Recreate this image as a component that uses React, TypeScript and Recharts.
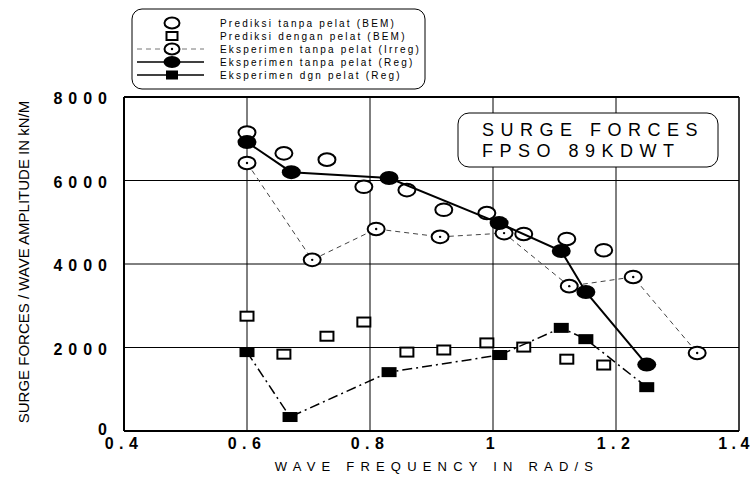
import React from "react";
import {
  ComposedChart,
  Scatter,
  XAxis,
  YAxis,
  CartesianGrid,
  ReferenceLine,
} from "recharts";

// ---- data ----
const xTicks = [0.4, 0.6, 0.8, 1.0, 1.2, 1.4];
const xTickLabels = ["0.4", "0.6", "0.8", "1", "1.2", "1.4"];
const yTicks = [0, 2000, 4000, 6000, 8000];
const yTickLabels = ["0", "2000", "4000", "6000", "8000"];

const bemFreq = [0.6, 0.66, 0.73, 0.79, 0.86, 0.92, 0.99, 1.05, 1.12, 1.18];
const bemTanpa = [7150, 6650, 6500, 5850, 5770, 5300, 5220, 4720, 4600, 4330];
const bemDengan = [2750, 1840, 2270, 2610, 1890, 1940, 2110, 2010, 1720, 1580];

const irregFreq = [0.6, 0.706, 0.81, 0.914, 1.018, 1.124, 1.228, 1.332];
const irregTanpa = [6420, 4100, 4840, 4650, 4740, 3470, 3690, 1870];

const regTanpaFreq = [0.6, 0.672, 0.831, 1.01, 1.111, 1.151, 1.25];
const regTanpa = [6920, 6200, 6060, 4980, 4310, 3330, 1590];

const regDgnFreq = [0.6, 0.67, 0.831, 1.011, 1.111, 1.151, 1.25];
const regDgn = [1890, 335, 1410, 1820, 2470, 2200, 1050];

const legendLabels = [
  "Prediksi tanpa pelat (BEM)",
  "Prediksi dengan pelat (BEM)",
  "Eksperimen tanpa pelat (Irreg)",
  "Eksperimen tanpa pelat (Reg)",
  "Eksperimen dgn pelat (Reg)",
];
const titleLines = ["SURGE FORCES", "FPSO 89KDWT"];
const xLabel = "WAVE FREQUENCY IN RAD/S";
const yLabel = "SURGE FORCES / WAVE AMPLITUDE IN kN/M";

const pts = (xs: number[], ys: number[]) => xs.map((x, i) => ({ x, y: ys[i] }));

const FONT = "'Liberation Sans', Arial, sans-serif";
const W = 755;
const H = 477;

// ---- marker shapes ----
const OpenCircle = (p: any) => (
  <ellipse cx={p.cx} cy={p.cy} rx={8.5} ry={6.3} fill="#fff" stroke="#000" strokeWidth={2} />
);
const OpenSquare = (p: any) => (
  <rect x={p.cx - 6.5} y={p.cy - 4.5} width={13} height={9} fill="#fff" stroke="#000" strokeWidth={2} />
);
const DotCircle = (p: any) => (
  <g>
    <ellipse cx={p.cx} cy={p.cy} rx={8.5} ry={6.3} fill="#fff" stroke="#000" strokeWidth={2} />
    <circle cx={p.cx} cy={p.cy} r={1.2} fill="#000" />
  </g>
);
const FilledCircle = (p: any) => (
  <ellipse cx={p.cx} cy={p.cy} rx={9.5} ry={7} fill="#000" />
);
const FilledSquare = (p: any) => (
  <rect x={p.cx - 7.5} y={p.cy - 5} width={15} height={10} fill="#000" />
);

// ---- ticks ----
const XTick = (props: any) => {
  const { x, y, payload } = props;
  const idx = xTicks.indexOf(payload.value);
  const last = idx === xTicks.length - 1;
  return (
    <text
      x={last ? x - 3 : x}
      y={y + 18}
      textAnchor="middle"
      fontFamily={FONT}
      fontSize={16}
      fontWeight="bold"
      letterSpacing={last ? 4.5 : 5.5}
      fill="#000"
    >
      {idx >= 0 ? xTickLabels[idx] : payload.value}
    </text>
  );
};

const YTick = (props: any) => {
  const { x, y, payload } = props;
  const idx = yTicks.indexOf(payload.value);
  return (
    <text
      x={x - 11}
      y={idx === 0 ? y + 4 : y + 7}
      textAnchor="end"
      fontFamily={FONT}
      fontSize={16}
      fontWeight="bold"
      letterSpacing={6}
      fill="#000"
    >
      {idx >= 0 ? yTickLabels[idx] : payload.value}
    </text>
  );
};

// ---- overlay: legend + title box + axis titles ----
const Overlay = () => {
  const rowBase = [27, 40, 53, 66, 79];
  const symX = 172;
  return (
    <svg
      width={W}
      height={H}
      style={{ position: "absolute", left: 0, top: 0, pointerEvents: "none" }}
    >
      {/* legend */}
      <rect x={132} y={9} width={293} height={80} rx={10} fill="#fff" stroke="#000" strokeWidth={1} />
      {/* row 1 */}
      <ellipse cx={symX} cy={rowBase[0] - 4} rx={7.5} ry={5.5} fill="#fff" stroke="#000" strokeWidth={2} />
      {/* row 2 */}
      <rect x={symX - 5.5} y={rowBase[1] - 8} width={11} height={8} fill="#fff" stroke="#000" strokeWidth={2} />
      {/* row 3 */}
      <line x1={137} x2={204} y1={rowBase[2] - 4} y2={rowBase[2] - 4} stroke="#777" strokeWidth={1} strokeDasharray="5 4" />
      <ellipse cx={symX} cy={rowBase[2] - 4} rx={7.5} ry={5.5} fill="#fff" stroke="#000" strokeWidth={2} />
      <circle cx={symX} cy={rowBase[2] - 4} r={1.2} fill="#000" />
      {/* row 4 */}
      <line x1={137} x2={204} y1={rowBase[3] - 4} y2={rowBase[3] - 4} stroke="#000" strokeWidth={1.5} />
      <ellipse cx={symX} cy={rowBase[3] - 4} rx={8.5} ry={6} fill="#000" />
      {/* row 5 */}
      <line x1={137} x2={204} y1={rowBase[4] - 4} y2={rowBase[4] - 4} stroke="#000" strokeWidth={1.5} />
      <rect x={symX - 6} y={rowBase[4] - 8.5} width={12} height={9} fill="#000" />
      {legendLabels.map((t, i) => (
        <text
          key={t}
          x={220}
          y={rowBase[i]}
          fontFamily={FONT}
          fontSize={10}
          letterSpacing={2.2}
          fill="#000"
        >
          {t}
        </text>
      ))}

      {/* title box */}
      <rect x={458} y={113} width={260} height={54} rx={11} fill="#fff" stroke="#000" strokeWidth={1} />
      {titleLines.map((t, i) => (
        <text
          key={t}
          x={482}
          y={136 + i * 21}
          fontFamily={FONT}
          fontSize={18}
          letterSpacing={6.5}
          fill="#000"
        >
          {t}
        </text>
      ))}

      {/* axis titles */}
      <text
        x={437}
        y={471}
        textAnchor="middle"
        fontFamily={FONT}
        fontSize={13}
        letterSpacing={6.2}
        fill="#000"
      >
        {xLabel}
      </text>
      <text
        transform={`translate(29, 262) rotate(-90)`}
        textAnchor="middle"
        fontFamily={FONT}
        fontSize={15}
        fill="#000"
      >
        {yLabel}
      </text>
    </svg>
  );
};

export default function App() {
  return (
    <div style={{ position: "relative", width: W, height: H, background: "#fff" }}>
      <style>{"body{margin:0;}"}</style>
      <ComposedChart
        width={W}
        height={H}
        margin={{ top: 97, right: 16, bottom: 16, left: 0 }}
      >
        <CartesianGrid stroke="#000" strokeWidth={1} strokeOpacity={1} />
        <XAxis
          type="number"
          dataKey="x"
          domain={[0.4, 1.4]}
          ticks={xTicks}
          interval={0}
          height={30}
          tickSize={0}
          tickMargin={0}
          tickLine={false}
          axisLine={{ stroke: "#000", strokeWidth: 2 }}
          tick={<XTick />}
          allowDataOverflow
        />
        <YAxis
          type="number"
          dataKey="y"
          domain={[0, 8000]}
          ticks={yTicks}
          interval={0}
          width={124}
          tickSize={0}
          tickMargin={0}
          tickLine={false}
          axisLine={{ stroke: "#000", strokeWidth: 2 }}
          tick={<YTick />}
          allowDataOverflow
        />
        <ReferenceLine y={8000} stroke="#000" strokeWidth={2} />
        <ReferenceLine x={1.4} stroke="#000" strokeWidth={1} />

        <Scatter
          name={legendLabels[0]}
          data={pts(bemFreq, bemTanpa)}
          shape={OpenCircle}
          isAnimationActive={false}
        />
        <Scatter
          name={legendLabels[1]}
          data={pts(bemFreq, bemDengan)}
          shape={OpenSquare}
          isAnimationActive={false}
        />
        <Scatter
          name={legendLabels[2]}
          data={pts(irregFreq, irregTanpa)}
          shape={DotCircle}
          line={{ stroke: "#444", strokeWidth: 1, strokeDasharray: "5 4" }}
          lineType="joint"
          isAnimationActive={false}
        />
        <Scatter
          name={legendLabels[3]}
          data={pts(regTanpaFreq, regTanpa)}
          shape={FilledCircle}
          line={{ stroke: "#000", strokeWidth: 2 }}
          lineType="joint"
          isAnimationActive={false}
        />
        <Scatter
          name={legendLabels[4]}
          data={pts(regDgnFreq, regDgn)}
          shape={FilledSquare}
          line={{ stroke: "#000", strokeWidth: 1.5, strokeDasharray: "10 4 2 4" }}
          lineType="joint"
          isAnimationActive={false}
        />
      </ComposedChart>
      <Overlay />
    </div>
  );
}
